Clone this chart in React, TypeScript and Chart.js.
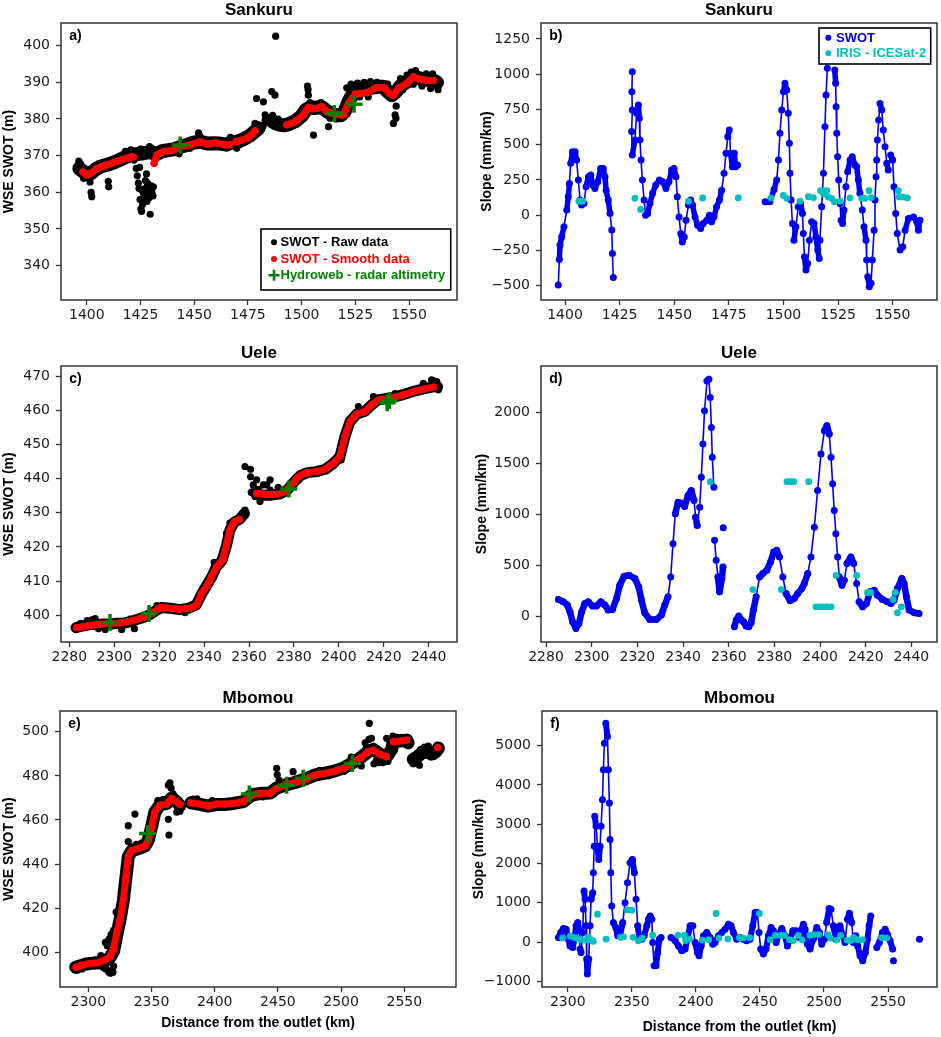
import React, { useEffect, useRef } from "react";
import { Chart, registerables } from "chart.js";

Chart.register(...registerables);

type Pt = [number, number | null];

// ---------------- Tick values ----------------
const sankuruXTicks = [1400, 1425, 1450, 1475, 1500, 1525, 1550];
const sankuruWseTicks = [340, 350, 360, 370, 380, 390, 400];
const sankuruSlopeTicks = [-500, -250, 0, 250, 500, 750, 1000, 1250];
const ueleXTicks = [2280, 2300, 2320, 2340, 2360, 2380, 2400, 2420, 2440];
const ueleWseTicks = [400, 410, 420, 430, 440, 450, 460, 470];
const ueleSlopeTicks = [0, 500, 1000, 1500, 2000];
const mbomouXTicks = [2300, 2350, 2400, 2450, 2500, 2550];
const mbomouWseTicks = [400, 420, 440, 460, 480, 500];
const mbomouSlopeTicks = [-1000, 0, 1000, 2000, 3000, 4000, 5000];

// ---------------- Sankuru (a) WSE ----------------
const aSmooth: Pt[] = [
  [1398.1, 365.6], [1400, 364.7], [1402, 365.2], [1404.7, 366.5], [1407, 367], [1409.3, 367.5], [1412, 368],
  [1414, 368.4], [1416.5, 368.9], [1418.6, 369.3], [1420.5, 369.7], [1421.7, 369.6], [1426, null],
  [1431.3, 367.9], [1432.6, 370.2], [1435.7, 371.1], [1440.3, 371.5], [1444.2, 372.5], [1448.1, 372.9],
  [1452.7, 373.8], [1455.8, 373.2], [1460.5, 373.5], [1464.4, 372.9], [1466.5, 373], [1467.5, null],
  [1469.5, 373.8], [1472, 374.2], [1474.5, 374.7], [1476.5, 375.6], [1478.3, 376.8], [1485, null],
  [1493.1, 378.4], [1495.5, 378.9], [1497.7, 379.5], [1500.8, 381.1], [1503.1, 383.2], [1505, 382.8],
  [1507, 382.9], [1509.4, 383.4], [1511.7, 382], [1514.8, 381.5], [1517, 381.2], [1519.4, 381.1],
  [1521.8, 384.3], [1524.9, 386.8], [1527.5, 387], [1530.3, 387.2], [1535, 388.6], [1538.1, 388.6],
  [1540.8, 387], [1542.7, 386.5], [1545, 388.4], [1548.9, 389.7], [1552, 391.5], [1555.1, 390.8],
  [1558, 390.6], [1561.3, 390.5],
];
const aRawBand: Pt[] = [
  [1396.5, 366.5], [1398, 365.8], [1400, 365], [1402, 365.2], [1404, 366.2], [1406, 366.9], [1408, 367.3],
  [1410, 367.6], [1412, 368], [1414, 368.5], [1416, 369], [1418, 369.6], [1420, 370], [1422, 370.3],
  [1424, 370.5], [1426, 370.6], [1428, 370.8], [1430, 371], [1432, 370.3], [1435, 371.2], [1438, 371.5],
  [1441, 371.8], [1444, 372.5], [1447, 373], [1450, 373.6], [1453, 373.8], [1456, 373.3], [1459, 373.4],
  [1462, 373.3], [1465, 373], [1467, 373.5], [1470, 373.8], [1473, 374.5], [1476, 375.5], [1478, 376.5],
  [1480, 377.5], [1483, null], [1486, 379.5], [1488, 378.8], [1490, 378.4], [1492, 378.3], [1494, 378.6],
  [1497, 379.4], [1500, 380.8], [1502, 382.5], [1504, 383.2], [1506, 383], [1508, 383.2], [1510, 383],
  [1512, 382], [1514, 381.5], [1516, 381], [1518, 381], [1520, 382], [1522, 385], [1524, 387], [1527, 388],
  [1530, 388.2], [1533, 388.6], [1536, 388.8], [1538, 388.8], [1540, 387.5], [1542, 386.5], [1544, 387.5],
  [1546, 389], [1548, 389.8], [1550, 390.5], [1552, 391.5], [1554, 391.3], [1556, 390.8], [1558, 390.8],
  [1560, 390.5], [1562, 390.3], [1563, 390],
];
const aRawOut: Pt[] = [
  [1396.3, 368.5], [1397, 367.8], [1398.5, 363.8], [1401.5, 362.8], [1402, 360], [1402.3, 358.8], [1410, 363],
  [1410.2, 361.5], [1414.5, 369.5], [1418, 371.2], [1420.5, 371.6], [1422, 368.8], [1423, 366.5],
  [1423.5, 364.5], [1424, 362.5], [1424.3, 361], [1424.8, 358], [1425.2, 355.5], [1425.5, 354.8],
  [1426, 356.7], [1426.5, 359.5], [1427, 361], [1427.3, 363.2], [1427.8, 365], [1428.2, 362.5],
  [1428.6, 360.2], [1429, 358.5], [1429.5, 354], [1429.8, 361.8], [1430.3, 360], [1430.8, 359], [1431, 361.5],
  [1428, 357.5], [1426.8, 358.2], [1425.8, 360.5], [1424.6, 366.8], [1429.2, 372.5], [1427, 371.5],
  [1425, 371.8], [1423, 371.2], [1452, 376.2], [1452.5, 375.4], [1448, 372], [1443, 370.5], [1466.8, 375],
  [1469.8, 372], [1471, 373], [1478.3, 378.8], [1479, 385.6], [1482.2, 384.7], [1483, 381.1], [1483, 379.7],
  [1480.6, 377], [1482, 378], [1486.1, 387.5], [1487.6, 386.5], [1487.9, 402.6], [1486.5, 381], [1489, 380],
  [1491, 378], [1502.7, 389], [1503, 388], [1503.1, 386.5], [1503.9, 384.5], [1505.5, 375.6], [1507, 383.8],
  [1509, 384.5], [1512.5, 377.9], [1513.2, 380.2], [1516, 380], [1519.5, 380.5], [1521, 388.5],
  [1523, 389.5], [1526, 389.8], [1529, 390], [1532, 390.2], [1535, 390], [1538, 389.5], [1540, 389.5],
  [1542.7, 378.8], [1543.5, 381.1], [1543.9, 380.2], [1544, 383.5], [1546, 391], [1549, 392], [1551, 392.8],
  [1553, 393.2], [1555, 392], [1558, 392.3], [1561, 392.3], [1563, 389.3], [1563.5, 388], [1560, 388.3],
  [1556, 389], [1552, 389.5], [1547, 388], [1531, 386], [1527, 386],
];
const aHydro: Pt[] = [[1443.5, 372.9], [1515.2, 381.5], [1524.4, 384]];

// ---------------- Sankuru (b) slope ----------------
const bSwot: Pt[] = [
  [1396.9, -495], [1397.4, -313], [1397.7, -212], [1398.5, -152], [1399.5, -82], [1400.8, 37], [1401.5, 131],
  [1402, 225], [1402.6, 368], [1403.4, 451], [1404.6, 451], [1405.3, 392], [1406.1, 250], [1406.9, 108],
  [1407.6, 72], [1408.7, 84], [1409.6, 202], [1410.7, 273], [1411.8, 285], [1412.7, 214], [1413.7, 190],
  [1415, 237], [1416.3, 332], [1417.5, 332], [1418.3, 273], [1418.8, 178], [1419.8, 108], [1420.6, 13],
  [1421.4, -105], [1421.7, -271], [1422.1, -441], [1426, null],
  [1430.8, 1018], [1430.6, 876], [1430.8, 746], [1430.5, 593], [1430.8, 427], [1432, 533], [1432.8, 723],
  [1433.6, 782], [1434, 687], [1434.3, 533], [1434.8, 391], [1435.4, 250], [1436.2, 108], [1436.9, 0],
  [1437.8, 13], [1438.9, 84], [1440.1, 155], [1441.5, 214], [1443.2, 250], [1444.7, 237], [1446.2, 190],
  [1447.6, 237], [1448.8, 320], [1449.9, 332], [1450.8, 273], [1451.4, 131], [1452.2, -12], [1453, -130],
  [1453.7, -189], [1454.6, -154], [1455.4, -35], [1456.5, 72], [1457.5, 108], [1458.4, 72], [1459.5, -12],
  [1460.7, -71], [1462.1, -94], [1463.3, -59], [1464.9, -35], [1466.1, 0], [1467.1, -47], [1468.2, -12],
  [1469.4, 60], [1470.7, 108], [1471.7, 178], [1472.8, 297], [1473.7, 439], [1474.5, 557], [1475.2, 604],
  [1475.8, 439], [1476.6, 344], [1477.5, 439], [1478.1, 344], [1479, 356], [1485, null],
  [1491.6, 96], [1493.8, 96], [1495.7, 183], [1496.9, 250], [1497.7, 391], [1498.4, 581], [1499.2, 746],
  [1500, 876], [1500.7, 935], [1501.5, 888], [1502.2, 723], [1502.7, 510], [1503, 297], [1503.5, 108],
  [1504.1, -59], [1504.8, -177], [1505.7, -82], [1506.8, 60], [1507.9, 84], [1508.7, 13], [1509.1, -130],
  [1509.6, -295], [1510.3, -389], [1511.1, -342], [1511.9, -177], [1512.9, -47], [1514, -59], [1514.9, -154],
  [1515.7, -247], [1516.4, -306], [1516.7, -177], [1517.5, 60], [1518.3, 297], [1519, 628], [1519.5, 853],
  [1520.1, 1042], [1521.8, null], [1523.5, 1030], [1523.9, 935], [1524.1, 770], [1524.4, 581], [1524.8, 415],
  [1525.3, 250], [1525.9, 84], [1526.4, -35], [1527.1, -59], [1527.7, 37], [1528.6, 202], [1529.4, 309],
  [1530.5, 391], [1531.5, 415], [1532.8, 356], [1533.5, 344], [1534.3, 250], [1535, 155], [1536.1, 37],
  [1536.9, -82], [1537.8, -177], [1538.1, -318], [1538.6, -436], [1539.3, -507], [1540.1, -483],
  [1540.7, -318], [1541.5, -106], [1541.9, 108], [1542.4, 273], [1542.7, 391], [1543, 533], [1543.6, 675],
  [1544.2, 793], [1545, 746], [1545.7, 604], [1546.5, 486], [1547.3, 368], [1548, 320], [1549.1, 427],
  [1550, 391], [1550.6, 202], [1551.4, 13], [1552.1, -130], [1553.4, -247], [1554.6, -224], [1555.7, -106],
  [1557.2, -24], [1559.5, -12], [1561, -47], [1561.8, -106], [1562.5, -35],
];
const bIris: Pt[] = [
  [1406.3, 100], [1407.2, 100], [1408.1, 100], [1432, 120], [1434.6, 41], [1456.5, 100], [1463, 123],
  [1479.3, 123], [1494.3, 123], [1500, 140], [1501.5, 120], [1507.6, 100], [1511.4, 131], [1513.7, 125],
  [1517, 174], [1518.3, 150], [1519.8, 174], [1520.5, 130], [1522, 120], [1523.3, 96], [1526, 100],
  [1530.5, 123], [1535.8, 120], [1537.3, 120], [1539.2, 174], [1540.2, 125], [1552.6, 174], [1553, 130],
  [1554.6, 130], [1556.7, 123],
];

// ---------------- Uele (c) WSE ----------------
const cSmooth: Pt[] = [
  [2283.3, 396.3], [2287.7, 396.8], [2293.7, 397.3], [2298.1, 397.6], [2302.6, 397.7], [2307.8, 398.3],
  [2313, 399.3], [2316.7, 400.5], [2320.4, 402.2], [2324.8, 402], [2329.3, 401.7], [2333.7, 402],
  [2336.7, 402.9], [2338.9, 406.4], [2341.2, 408.5], [2343.4, 411.3], [2345.6, 414.2], [2348.3, 416.2],
  [2350.1, 421], [2351.5, 425], [2353.5, 427.4], [2355.7, 428.1], [2359, null],
  [2363.4, 435.7], [2367.9, 435.4], [2372.3, 435.4], [2376, 436.2], [2379, 438.2], [2382, 440.6],
  [2385.7, 441.8], [2390.1, 442.1], [2393.8, 442.8], [2397.5, 444.5], [2400.5, 446.5], [2402.7, 452.4],
  [2405, 456.8], [2407.9, 459], [2411.6, 459.7], [2414.6, 461.7], [2417.6, 463.1], [2422.8, 463.6],
  [2428.7, 464.6], [2433.2, 465.6], [2437.6, 466.3], [2442.1, 466.9],
];
const cRawBand: Pt[] = [
  [2283, 396.3], [2286, 396.8], [2289, 397.2], [2292, 397.2], [2295, 397.4], [2298, 397.3], [2301, 397.6],
  [2304, 397.6], [2307, 398], [2310, 398.7], [2313, 399.3], [2316, 400.2], [2318.5, 401.3], [2321, 402.2],
  [2325, 402], [2329, 401.6], [2333, 402], [2336.5, 403], [2339, 406.3], [2341, 408.5], [2343.5, 411.3],
  [2345.5, 414.2], [2348, 416], [2350, 420.5], [2351.5, 425], [2353.5, 427.3], [2356, 428.2], [2358, 429.8],
  [2360, null], [2362.5, 436], [2366, 435.2], [2370, 435.2], [2374, 435.6], [2377, 436.7], [2380, 439],
  [2383, 441], [2386, 441.8], [2390, 442.1], [2394, 442.8], [2397.5, 444.5], [2400.5, 446.5],
  [2402.7, 452.4], [2405, 456.8], [2408, 459], [2411.6, 459.8], [2414.6, 461.7], [2417.6, 463.2],
  [2422.8, 463.7], [2428.7, 464.7], [2433, 465.6], [2437.6, 466.4], [2442, 467], [2444, 467],
];
const cRawOut: Pt[] = [
  [2285, 397.6], [2288, 398.4], [2290, 398.6], [2291.5, 399], [2293, 396], [2296, 395.8], [2303.3, 395.8],
  [2307, 398.8], [2309, 396], [2319, 402.8], [2321.5, 402.7], [2331.5, 400.7], [2344.5, 415.5],
  [2347.5, 416.5], [2350, 424], [2351.5, 427], [2357, 429.8], [2358.2, 430.8], [2358.5, 429.5],
  [2358.2, 443.6], [2360.7, 442.8], [2360.7, 440.6], [2361.9, 438.2], [2363.4, 439.7], [2364.2, 436.9],
  [2366.4, 438.2], [2367.9, 438.2], [2369.4, 439.7], [2369.4, 436.7], [2364.9, 433.3], [2362.7, 434.8],
  [2361, 436], [2373, 437.5], [2401, 445.5], [2402.5, 450], [2408.7, 461.2], [2415.4, 464.1], [2425, 465],
  [2430, 465.5], [2437.6, 468], [2441.3, 469], [2442, 468.8], [2443.6, 468.5], [2444.3, 466.1],
];
const cHydro: Pt[] = [[2298.1, 397.8], [2315.5, 400.5], [2377.7, 437], [2421.5, 462.3], [2422.5, 463]];

// ---------------- Uele (d) slope ----------------
const dSwot: Pt[] = [
  [2285.4, 163], [2287.6, 140], [2289.3, 108], [2290.5, 42], [2291.6, -55], [2293.1, -121], [2294.4, -72],
  [2295.6, 42], [2297, 124], [2298.5, 140], [2300.4, 98], [2302.1, 98], [2304, 140], [2305.8, 108],
  [2307.2, 59], [2309.1, 65], [2310.9, 173], [2312.3, 303], [2314.2, 392], [2316.4, 401], [2318.9, 369],
  [2320.6, 287], [2321.8, 157], [2323.2, 33], [2325.4, -33], [2328.3, -33], [2330.5, 10], [2332, 108],
  [2333.4, 189], [2334.6, 385], [2335.6, 711], [2336.6, 1005], [2337.8, 1119], [2339.3, 1109],
  [2340.7, 1077], [2342.2, 1184], [2343.6, 1233], [2344.8, 1136], [2345.5, 972], [2346.2, 891],
  [2347.3, 1070], [2348, 1364], [2348.7, 1690], [2349.4, 2017], [2350.5, 2310], [2351.3, 2327],
  [2351.9, 2147], [2352.4, 1853], [2352.8, 1560], [2353.5, 1266], [2353.6, null],
  [2353.8, 744], [2354.5, 548], [2355.3, 385], [2356, 238], [2357, 369], [2357.5, 483], [2357.55, null],
  [2357.6, 868], [2360, null],
  [2362.5, -104], [2363.3, -39], [2364.4, 0], [2365.5, -39], [2366.5, -55], [2367.6, -98], [2368.8, -104],
  [2369.8, -65], [2370.8, 59], [2372, 189], [2373.5, 385], [2374.9, 418], [2376.7, 450], [2378.3, 532],
  [2379.7, 630], [2381, 646], [2382.2, 581], [2383.7, 385], [2385.1, 222], [2386.9, 150], [2388.7, 173],
  [2390.2, 222], [2392, 271], [2393.1, 320], [2394.6, 418], [2396, 581], [2397.5, 874], [2398.9, 1233],
  [2400.4, 1592], [2401.9, 1821], [2403, 1870], [2404, 1788], [2404.8, 1560], [2405.5, 1299],
  [2406.2, 1038], [2406.9, 809], [2407.7, 581], [2408.4, 385], [2409.6, 303], [2410.6, 352], [2411.8, 516],
  [2413.5, 581], [2414.7, 516], [2416, 320], [2417.1, 140], [2418.6, 91], [2420.3, 124], [2421.9, 238],
  [2423.7, 254], [2425.1, 206], [2427.3, 163], [2429.5, 140], [2431, 124], [2432.4, 157], [2433.9, 271],
  [2435.8, 369], [2436.8, 320], [2437.8, 189], [2439, 59], [2441.2, 33], [2443.3, 26],
];
const dIris: Pt[] = [
  [2351.9, 1321], [2370.6, 261], [2383, 261], [2385.5, 1321], [2387, 1321], [2388.5, 1321], [2395, 1321],
  [2398.2, 91], [2399.8, 91], [2401.4, 91], [2403, 91], [2404.8, 91], [2407, 401], [2416, 401],
  [2420.8, 232], [2422.2, 232], [2432, 163], [2432.9, 232], [2433.9, 33], [2435.6, 91],
];

// ---------------- Mbomou (e) WSE ----------------
const eSmooth: Pt[] = [
  [2290.2, 393.2], [2296, 394.3], [2301.3, 395], [2307.9, 395.3], [2313.2, 396.5], [2317.1, 398],
  [2319.8, 401.1], [2322.4, 408.6], [2325.1, 414.7], [2327.7, 423.7], [2329.8, 434.3], [2331.6, 443.4],
  [2334.3, 446.1], [2339.6, 447.1], [2344.8, 448.2], [2347.5, 450.9], [2350.1, 456.9], [2352.7, 463.7],
  [2356.7, 466.8], [2362, 467.2], [2365.9, 469.8], [2369.4, 468.3], [2372.5, 467.1], [2377, null],
  [2381.2, 467.8], [2388.3, 467.2], [2394.9, 466.3], [2401.5, 467.2], [2408.1, 467.2], [2414.7, 467.5],
  [2422.6, 468.3], [2429.2, 471.3], [2435.8, 472.1], [2443.7, 472.1], [2449, 474.3], [2455.6, 475.8],
  [2463.5, 476.9], [2471.4, 478.4], [2479.3, 480.4], [2487.2, 481.1], [2493.8, 481.9], [2501.7, 483.4],
  [2508.3, 485.6], [2514.9, 487.9], [2521.5, 490.9], [2525.5, 491.7], [2530.7, 489.7], [2536, 488.7],
  [2538.5, null], [2541.3, 495.5], [2546.6, 495.8], [2551.8, 496.2], [2560, null], [2576.4, 492.9],
];
const eRawBand: Pt[] = [
  [2290, 393.3], [2294, 394], [2298, 394.7], [2302, 395], [2306, 395.2], [2310, 395.3], [2314, 396.4],
  [2317, 397.5], [2320, 400.5], [2322.4, 407.5], [2325, 414.5], [2327.7, 423.5], [2329.8, 434],
  [2331.6, 443.3], [2334.3, 446], [2339.6, 447], [2344.8, 448.2], [2347.5, 450.9], [2350, 456.8],
  [2352.7, 463.6], [2356.7, 466.8], [2362, 467.5], [2366, 470], [2369.4, 468.5], [2372.5, 466.5],
  [2377, null], [2381.2, 467.8], [2388.3, 467.1], [2394.9, 466.3], [2401.5, 467], [2408, 467],
  [2414.7, 467.5], [2422.6, 468.3], [2429.2, 471.3], [2435.8, 472], [2443.7, 472.2], [2449, 474.5],
  [2455.6, 475.8], [2463.5, 477], [2471.4, 478.5], [2479.3, 480.4], [2487.2, 481.2], [2493.8, 482],
  [2501.7, 483.5], [2508.3, 485.7], [2514.9, 488], [2521.5, 491], [2525.5, 492], [2530.7, 489.8],
  [2536, 488.7], [2540, 492], [2541.3, 495.5], [2546.6, 495.8], [2551.8, 496.2], [2553, 495], [2555, null],
  [2557, 487.5], [2560, 488.5], [2563, 490], [2566, 491], [2569, 490.5], [2572, 490], [2575, 491],
  [2577, 492.5],
];
const eRawOut: Pt[] = [
  [2291, 391.8], [2295, 392.5], [2300, 393.5], [2305, 396.5], [2308, 396.8], [2310, 398.5], [2312, 393],
  [2314, 392.5], [2316, 391.2], [2317.5, 390.5], [2318.5, 392], [2319.5, 391], [2320, 393.8],
  [2313.5, 404.5], [2315, 403], [2316.5, 406], [2318, 408], [2320, 410], [2322, 418.3], [2323.5, 417],
  [2326.5, 416.5], [2328, 420.5], [2326, 421.5], [2329, 428], [2331, 436.5], [2331.6, 450.2],
  [2331.6, 457.4], [2336.9, 462.7], [2334, 447.8], [2338, 449], [2342, 449.5], [2345, 447], [2346.5, 450.5],
  [2355, 468.8], [2359, 469.2], [2362, 469.5], [2363.3, 475.8], [2364.5, 476.8], [2365.5, 474.5],
  [2363.3, 460.3], [2363.8, 453.2], [2367, 472], [2371, 465], [2372.5, 464], [2370, 463.5],
  [2383, 469.5], [2386, 469.6], [2390, 466.3], [2395, 465.5], [2398, 468.8], [2404, 466], [2410, 468.5],
  [2418, 467], [2430, 473], [2438, 470.5], [2446, 471.5], [2449, 483.4], [2449.5, 480.5], [2451, 478],
  [2462, 481.9], [2465, 478.5], [2476, 480], [2483, 482.5], [2490, 480], [2497, 483.5], [2502, 482],
  [2508, 488.5], [2515, 486], [2516, 484.5], [2519, 495], [2520, 493], [2522.3, 503.8], [2522, 496.5],
  [2524, 497], [2526, 485.5], [2528, 487], [2530, 486], [2533, 486], [2535, 487], [2537, 486.5], [2538, 490],
  [2536, 497], [2538, 496.5], [2541, 498], [2544, 497.5], [2548, 497.5], [2553, 497], [2557, 485.5],
  [2559, 486], [2562, 484.8], [2563, 492], [2566, 493], [2569, 493.5], [2571, 488.5], [2574, 489],
  [2576, 494],
];
const eHydro: Pt[] = [[2346.9, 453.9], [2427.4, 471.8], [2456.9, 475.8], [2470.1, 478.9], [2508.9, 485.6]];

// ---------------- Mbomou (f) slope ----------------
const fSwot: Pt[] = [
  [2292.7, 116], [2294.5, 243], [2296.6, 344], [2298.7, 327], [2300.5, 74], [2301.8, -99], [2303.9, -138],
  [2305.2, 74], [2306.5, 412], [2307.8, 496], [2309.1, 285], [2309.6, -180], [2310.4, -265], [2311.7, 243],
  [2312.2, 834], [2312.7, 1299], [2313.5, 1088], [2314.3, 412], [2314.8, -433], [2315.3, -813],
  [2316.4, -433], [2317.4, 412], [2318.2, 1088], [2319.5, 1257], [2320, 1764], [2320.6, 2440],
  [2321.1, 3201], [2322.1, 2947], [2323.2, 2440], [2324.2, 2102], [2325.2, 2440], [2326, 2947],
  [2327.1, 3623], [2327.8, 4383], [2328.6, 5059], [2329.7, 5566], [2331, 5228], [2331.7, 4383],
  [2332.5, 3538], [2333, 2608], [2333.6, 1764], [2334.3, 919], [2335.6, 496], [2337.5, 369], [2339, 158],
  [2340.8, 158], [2342.9, 496], [2344.7, 1003], [2346.6, 1510], [2348.6, 2017], [2350.5, 2102],
  [2352, 1764], [2353.3, 1088], [2354.6, 412], [2355.9, 74], [2357.8, 74], [2359.6, 158], [2361.7, 412],
  [2363, 581], [2364.3, 665], [2365.6, 581], [2366.3, -11], [2367.4, -602], [2368.9, -602], [2370.2, -265],
  [2371.5, 74], [2372.8, 116], [2377, null],
  [2380.6, 116], [2383.8, 31], [2386.4, -99], [2389, -222], [2391.6, -180], [2393.4, 74], [2395.5, 412],
  [2397.6, 412], [2399.4, -11], [2401.2, -265], [2402.5, -350], [2404.1, -99], [2405.9, 158], [2408.5, 243],
  [2411.1, 116], [2413.2, -53], [2415, -11], [2417.6, 158], [2420.2, 243], [2422.8, 327], [2425.4, 454],
  [2427.5, 412], [2429.3, 243], [2431.9, 74], [2434.5, 116], [2437.1, 74], [2439.7, 31], [2442.3, 74],
  [2444.4, 412], [2446.2, 750], [2448, 750], [2449.3, 243], [2450.6, -180], [2452.7, -307], [2454.8, -180],
  [2456.6, 158], [2458.7, 369], [2460.5, 285], [2462.6, -11], [2464.4, 158], [2467, 344], [2469.6, 158],
  [2471.4, -99], [2473.5, 74], [2475.6, 285], [2478.2, 285], [2480.8, 116], [2482.6, 327], [2483.9, 454],
  [2485.2, 327], [2487, -53], [2489.1, -180], [2491.7, 74], [2494.3, 369], [2496.4, 243], [2498.2, -53],
  [2500.3, 74], [2502.1, 496], [2504, 851], [2505.5, 834], [2507.3, 412], [2509.2, 74], [2510.7, 369],
  [2512.5, 412], [2514.6, 158], [2516.4, -11], [2518.3, 581], [2519.8, 733], [2521.6, 496], [2522.9, -11],
  [2524.8, 158], [2526.3, -99], [2528.1, -350], [2530.2, -476], [2532.3, -265], [2533.9, 74], [2535.2, 412],
  [2536.5, 665], [2539, null],
  [2541.2, -138], [2543.2, -11], [2545.6, 243], [2547.7, 327], [2549.5, 200], [2551.6, 31], [2553.6, -180],
  [2553.9, null], [2554.2, -476], [2560, null], [2574.5, 74],
];
const fIris: Pt[] = [
  [2296, 100], [2302, 150], [2304.5, 120], [2307, 100], [2310, 60], [2313, 50], [2316, 130], [2318, 60],
  [2320, 20], [2323.2, 707], [2329.9, 74], [2341, 120], [2343.5, 130], [2346.6, 819], [2350, 810],
  [2351, 120], [2355, 30], [2358, 100], [2366.3, 175], [2386, 170], [2391, 170], [2392, 40], [2395, 80],
  [2405, 50], [2410, 60], [2415.8, 726], [2418, 100], [2425, 80], [2434, 110], [2437, 100], [2442, 110],
  [2449.6, 726], [2458, 60], [2462, 170], [2466, 170], [2469, 170], [2473, 60], [2476, 40], [2480, 170],
  [2483, 50], [2489, 170], [2492, 190], [2496, 190], [2503, 190], [2505, 100], [2510, 50], [2513, 170],
  [2518, 50], [2521, 40], [2523, 120], [2526, 60], [2530, 60], [2545, 110], [2549, 100],
];

// ---------------- Styling ----------------
const BLACK = "#000000";
const RED = "#ff0000";
const GREEN = "#008000";
const BLUE = "#0000f0";
const CYAN = "#00bfbf";
const TICK_FONT = { family: "'DejaVu Sans', sans-serif", size: 14 };
const BOLD = "'Liberation Sans', Arial, sans-serif";

const toXY = (pts: Pt[]) => pts.map(([x, y]) => ({ x, y }));
const fmt = (v: number) => (v < 0 ? "\u2212" + Math.abs(v) : String(v));

function wseDatasets(hydro: Pt[], smooth: Pt[], rawOut: Pt[], rawBand: Pt[], bandW: number) {
  return [
    {
      label: "Hydroweb - radar altimetry", data: toXY(hydro), showLine: false, pointStyle: "cross",
      pointRadius: 8.5, pointBorderWidth: 3.5, borderColor: GREEN, backgroundColor: GREEN,
    },
    {
      label: "SWOT - Smooth data", data: toXY(smooth), showLine: true, borderColor: RED, backgroundColor: RED,
      borderWidth: 7, pointRadius: 3.6, pointBorderWidth: 0, borderJoinStyle: "round", borderCapStyle: "round",
    },
    {
      label: "SWOT - Raw data", data: toXY(rawOut), showLine: false, backgroundColor: BLACK, borderColor: BLACK,
      pointRadius: 3.6, pointBorderWidth: 0,
    },
    {
      label: "SWOT - Raw data ", data: toXY(rawBand), showLine: true, borderColor: BLACK, backgroundColor: BLACK,
      borderWidth: bandW, pointRadius: 4, pointBorderWidth: 0, borderJoinStyle: "round", borderCapStyle: "round",
    },
  ];
}

function slopeDatasets(swot: Pt[], iris: Pt[], lineW: number) {
  return [
    {
      label: "IRIS - ICESat-2", data: toXY(iris), showLine: false, backgroundColor: CYAN, borderColor: CYAN,
      pointRadius: 3.4, pointBorderWidth: 0,
    },
    {
      label: "SWOT", data: toXY(swot), showLine: true, borderColor: BLUE, backgroundColor: BLUE,
      borderWidth: lineW, pointRadius: 3.5, pointBorderWidth: 0, borderJoinStyle: "round", borderCapStyle: "round",
      segment: {
        // only the tall, near-vertical spikes show as chains of separate dots in the reference
        borderWidth: (ctx: any) => {
          const dx = Math.abs(ctx.p1.x - ctx.p0.x);
          const dy = Math.abs(ctx.p1.y - ctx.p0.y);
          return dy > 15 && dy > 4 * dx ? 1.6 : lineW;
        },
      },
    },
  ];
}

type LegendDef = {
  entries: { text: string; color: string; marker: "dot" | "cross" }[];
  rightInset: number; top?: number; bottomInset?: number; w: number; h: number;
  markerX: number; textX: number; rowY: number[];
};

type PanelDef = {
  id: string; left: number; top: number; width: number; height: number;
  yAxisW: number; xAxisH: number; padRight: number;
  title: string; letter: string;
  xMin: number; xMax: number; yMin: number; yMax: number; xTicks: number[]; yTicks: number[];
  yTitle: string; yTitlePad: number; xTitle?: string; xTitlePad?: number;
  datasets: any[]; legend?: LegendDef;
};

const ROW1_TOP = 0, ROW2_TOP = 343, ROW3_TOP = 688;

const panels: PanelDef[] = [
  {
    id: "a", left: 0, top: ROW1_TOP, width: 470, height: 325, yAxisW: 61, xAxisH: 25, padRight: 13,
    title: "Sankuru", letter: "a)", xMin: 1388, xMax: 1572.3, yMin: 330.6, yMax: 406.2,
    xTicks: sankuruXTicks, yTicks: sankuruWseTicks, yTitle: "WSE SWOT (m)", yTitlePad: 1,
    datasets: wseDatasets(aHydro, aSmooth, aRawOut, aRawBand, 14),
    legend: {
      entries: [
        { text: "SWOT - Raw data", color: BLACK, marker: "dot" },
        { text: "SWOT - Smooth data", color: RED, marker: "dot" },
        { text: "Hydroweb - radar altimetry", color: GREEN, marker: "cross" },
      ],
      rightInset: 6.3, bottomInset: 10, w: 189.7, h: 61, markerX: 13, textX: 19.5, rowY: [13.3, 30, 46.3],
    },
  },
  {
    id: "b", left: 470, top: ROW1_TOP, width: 471, height: 325, yAxisW: 71, xAxisH: 25, padRight: 4,
    title: "Sankuru", letter: "b)", xMin: 1389, xMax: 1570.3, yMin: -601, yMax: 1363,
    xTicks: sankuruXTicks, yTicks: sankuruSlopeTicks, yTitle: "Slope (mm/km)", yTitlePad: 8.6,
    datasets: slopeDatasets(bSwot, bIris, 5.5),
    legend: {
      entries: [
        { text: "SWOT", color: BLUE, marker: "dot" },
        { text: "IRIS - ICESat-2", color: CYAN, marker: "dot" },
      ],
      rightInset: 6.3, top: 5, w: 111.7, h: 36, markerX: 9.3, textX: 17, rowY: [9.7, 25.3],
    },
  },
  {
    id: "c", left: 0, top: ROW2_TOP, width: 470, height: 324, yAxisW: 61, xAxisH: 25, padRight: 13,
    title: "Uele", letter: "c)", xMin: 2276.3, xMax: 2452.6, yMin: 392.1, yMax: 473.1,
    xTicks: ueleXTicks, yTicks: ueleWseTicks, yTitle: "WSE SWOT (m)", yTitlePad: 1,
    datasets: wseDatasets(cHydro, cSmooth, cRawOut, cRawBand, 11),
  },
  {
    id: "d", left: 470, top: ROW2_TOP, width: 471, height: 324, yAxisW: 71, xAxisH: 25, padRight: 4,
    title: "Uele", letter: "d)", xMin: 2277.8, xMax: 2451.2, yMin: -254.5, yMax: 2457,
    xTicks: ueleXTicks, yTicks: ueleSlopeTicks, yTitle: "Slope (mm/km)", yTitlePad: 4.1,
    datasets: slopeDatasets(dSwot, dIris, 6.5),
  },
  {
    id: "e", left: 0, top: ROW3_TOP, width: 470, height: 349, yAxisW: 60, xAxisH: 50, padRight: 14,
    title: "Mbomou", letter: "e)", xMin: 2277.6, xMax: 2590.9, yMin: 384.3, yMax: 509.4,
    xTicks: mbomouXTicks, yTicks: mbomouWseTicks, yTitle: "WSE SWOT (m)", yTitlePad: 0.8,
    xTitle: "Distance from the outlet (km)", xTitlePad: 5,
    datasets: wseDatasets(eHydro, eSmooth, eRawOut, eRawBand, 13),
  },
  {
    id: "f", left: 470, top: ROW3_TOP, width: 471, height: 349, yAxisW: 72, xAxisH: 50, padRight: 4,
    title: "Mbomou", letter: "f)", xMin: 2279.9, xMax: 2588.2, yMin: -1144, yMax: 5880,
    xTicks: mbomouXTicks, yTicks: mbomouSlopeTicks, yTitle: "Slope (mm/km)", yTitlePad: 1.1,
    xTitle: "Distance from the outlet (km)", xTitlePad: 1,
    datasets: slopeDatasets(fSwot, fIris, 6),
  },
];

function makePlugins(def: PanelDef) {
  return [
    {
      id: "frameAndLabels",
      afterDraw(chart: any) {
        const { left, top, right, bottom } = chart.chartArea;
        const ctx = chart.ctx as CanvasRenderingContext2D;
        ctx.save();
        ctx.strokeStyle = "#333333";
        ctx.lineWidth = 1.5;
        ctx.strokeRect(left, top, right - left, bottom - top);
        ctx.fillStyle = "#000";
        ctx.font = `bold 14px ${BOLD}`;
        ctx.textAlign = "left";
        ctx.textBaseline = "alphabetic";
        ctx.fillText(def.letter, left + 8.3, top + 17);
        const L = def.legend;
        if (L) {
          const bx = right - L.rightInset - L.w;
          const by = L.top !== undefined ? top + L.top : bottom - (L.bottomInset || 0) - L.h;
          ctx.fillStyle = "#ffffff";
          ctx.fillRect(bx, by, L.w, L.h);
          ctx.strokeStyle = "#000";
          ctx.lineWidth = 1.6;
          ctx.strokeRect(bx, by, L.w, L.h);
          ctx.font = `bold 13px ${BOLD}`;
          ctx.textBaseline = "middle";
          L.entries.forEach((e, i) => {
            const y = by + L.rowY[i];
            const mx = bx + L.markerX;
            if (e.marker === "cross") {
              ctx.strokeStyle = e.color;
              ctx.lineWidth = 2.6;
              ctx.beginPath();
              ctx.moveTo(mx - 5.5, y); ctx.lineTo(mx + 5.5, y);
              ctx.moveTo(mx, y - 5.5); ctx.lineTo(mx, y + 5.5);
              ctx.stroke();
            } else {
              ctx.fillStyle = e.color;
              ctx.beginPath();
              ctx.arc(mx, y, 3, 0, Math.PI * 2);
              ctx.fill();
            }
            ctx.fillStyle = e.color;
            ctx.fillText(e.text, bx + L.textX, y + 0.5);
          });
        }
        ctx.restore();
      },
    },
  ];
}

function buildConfig(def: PanelDef): any {
  const gridOpts = {
    display: true, drawOnChartArea: false, drawTicks: true, tickLength: 5, tickColor: "#333333", tickWidth: 1.3,
  };
  return {
    type: "scatter",
    data: { datasets: def.datasets },
    plugins: makePlugins(def),
    options: {
      animation: false,
      responsive: false,
      events: [],
      layout: { padding: { left: 0, top: 0, bottom: 0, right: def.padRight } },
      plugins: {
        legend: { display: false },
        tooltip: { enabled: false },
        title: {
          display: true, text: def.title, fullSize: false, color: "#000",
          font: { family: BOLD, size: 17, weight: "bold", lineHeight: "20px" },
          padding: { top: 0, bottom: 3 },
        },
      },
      scales: {
        x: {
          type: "linear", min: def.xMin, max: def.xMax,
          afterBuildTicks: (s: any) => { s.ticks = def.xTicks.map((v) => ({ value: v })); },
          afterFit: (s: any) => { s.height = def.xAxisH; },
          ticks: {
            font: TICK_FONT, color: "#1a1a1a", padding: 2, maxRotation: 0, minRotation: 0, autoSkip: false,
            callback: (v: any) => fmt(Number(v)),
          },
          grid: gridOpts,
          border: { display: false },
          title: def.xTitle
            ? {
                display: true, text: def.xTitle, color: "#000",
                font: { family: BOLD, size: 14, weight: "bold" },
                padding: { top: 0, bottom: def.xTitlePad || 0 },
              }
            : { display: false },
        },
        y: {
          type: "linear", min: def.yMin, max: def.yMax,
          afterBuildTicks: (s: any) => { s.ticks = def.yTicks.map((v) => ({ value: v })); },
          afterFit: (s: any) => { s.width = def.yAxisW; },
          ticks: {
            font: TICK_FONT, color: "#1a1a1a", padding: 6, autoSkip: false,
            callback: (v: any) => fmt(Number(v)),
          },
          grid: gridOpts,
          border: { display: false },
          title: {
            display: true, text: def.yTitle, color: "#000",
            font: { family: BOLD, size: 14, weight: "bold" },
            padding: { top: def.yTitlePad, bottom: 0 },
          },
        },
      },
    },
  };
}

function Panel({ def }: { def: PanelDef }) {
  const ref = useRef<HTMLCanvasElement | null>(null);
  useEffect(() => {
    if (!ref.current) return;
    const chart = new Chart(ref.current, buildConfig(def));
    return () => chart.destroy();
  }, [def]);
  return (
    <canvas
      ref={ref}
      width={def.width}
      height={def.height}
      style={{ position: "absolute", left: def.left, top: def.top, width: def.width, height: def.height }}
    />
  );
}

export default function App() {
  return (
    <div style={{ position: "absolute", left: 0, top: 0, width: 941, height: 1037, background: "#ffffff", overflow: "hidden" }}>
      {panels.map((p) => (
        <Panel key={p.id} def={p} />
      ))}
    </div>
  );
}
